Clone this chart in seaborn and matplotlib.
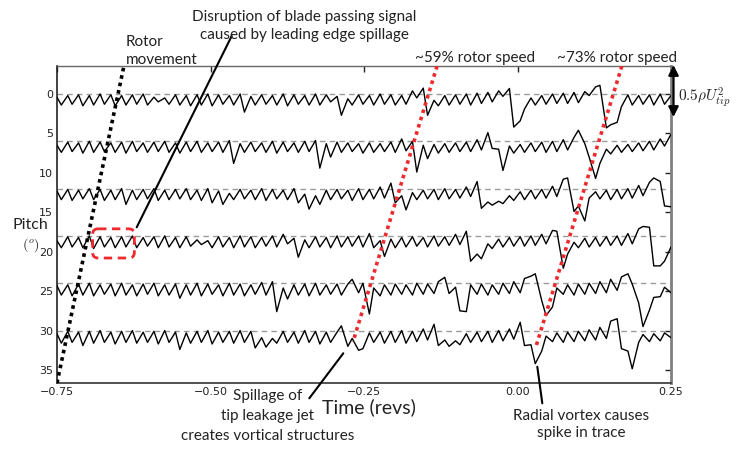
import numpy as np
import pandas as pd
import matplotlib
matplotlib.use("Agg")
import matplotlib.pyplot as plt
from matplotlib.lines import Line2D
from matplotlib.patches import FancyBboxPatch
import seaborn as sns

# Probe pitch positions (deg) of the six casing traces
trace_pitch = [0, 6, 12, 18, 24, 30]

# Pressure signals, sampled every half blade passing period from -0.75 to 0.25 revs.
# Values are offsets below each trace's reference line, in pitch-axis units.
trace_0 = [
    0.4, 1.4, 0.2, 1.3, 0.1, 1.5, 0.2, 1.4, 0.0, 1.3,
    0.1, 1.5, 0.2, 1.4, 0.1, 1.3, 0.0, 1.4, 0.4, 1.0,
    0.5, 1.3, 0.1, 1.4, 0.2, 1.5, 0.1, 1.4, 0.0, 1.5,
    0.1, 1.3, 0.2, 1.4, 0.0, 2.3, 0.3, 1.4, 0.1, 1.3,
    0.2, 1.4, 0.0, 1.5, 0.1, 1.3, 0.2, 1.4, 0.0, 1.4,
    0.1, 1.0, 0.3, 2.7, 0.6, 1.4, 0.1, 1.3, 0.2, 1.4,
    0.0, 1.3, 0.1, 1.4, 0.2, 1.3, -0.4, 0.5, -0.75, 2.7,
    0.8, 1.5, 0.2, 1.4, 0.1, 1.3, 0.0, 1.4, -0.1, 1.2,
    -0.2, 1.0, -0.4, 0.3, -0.7, 4.2, 3.4, 1.9, 0.5, 1.4,
    0.2, 1.3, 0.0, 1.2, -0.1, 1.2, -0.2, 1.1, -0.3, 0.2,
    -0.9, -1.1, 4.3, 3.9, 3.6, 1.6, 0.1, 1.4, 0.2, 1.3,
    0.1, 1.4, 0.0, 1.3, 0.2,
]
trace_6 = [
    0.5, 1.4, 0.1, 1.3, 0.2, 1.5, 0.0, 1.4, 0.1, 1.3,
    0.2, 1.4, 0.1, 1.5, 0.0, 1.3, 0.2, 1.4, 0.1, 1.3,
    0.0, 1.4, 0.2, 1.5, 0.1, 1.3, 0.0, 1.4, 0.2, 1.3,
    0.1, 1.4, -0.1, 2.8, 0.3, 1.4, 0.1, 1.3, 0.2, 1.4,
    0.0, 1.5, 0.1, 1.3, 0.2, 1.4, 0.0, 1.3, -0.1, 3.4,
    0.3, 2.0, 0.1, 1.4, 0.2, 1.3, 0.3, 1.5, 0.2, 1.4,
    0.3, 1.3, 0.1, 1.4, -0.3, 1.2, 0.0, 3.9, 0.5, 2.2,
    0.4, 1.5, 0.3, 1.4, 0.2, 1.3, 0.1, 1.3, -0.2, 1.1,
    -1.1, 0.9, 1.0, 3.7, 0.6, 1.5, 0.4, 1.4, 0.2, 1.3,
    0.1, 1.4, 0.0, 1.3, -0.2, 1.1, -0.5, -1.4, 0.3, 2.0,
    4.7, 2.8, 1.0, 1.6, 0.5, 1.4, 0.4, 1.3, 0.2, 1.2,
    0.0, 1.1, -0.3, 0.6, -0.9,
]
trace_12 = [
    0.3, 1.4, 0.1, 1.5, 0.2, 1.3, 0.0, 1.4, 0.1, 1.5,
    0.2, 1.4, 0.0, 2.0, 0.2, 1.4, 0.1, 1.3, 0.0, 1.5,
    0.2, 1.4, 0.1, 1.3, 0.0, 1.4, 0.2, 1.5, 0.0, 1.8,
    0.3, 2.0, 0.6, 1.4, 0.1, 1.3, 0.2, 1.4, 0.0, 1.5,
    0.1, 1.3, 0.2, 1.4, 0.0, 1.8, 0.7, 2.6, 0.9, 2.0,
    0.2, 1.4, 0.1, 1.3, 0.2, 1.5, 0.0, 1.4, 0.1, 1.3,
    -0.2, 1.2, -0.7, 1.8, 0.9, 2.7, 0.5, 1.4, 0.2, 1.3,
    0.1, 1.4, 0.0, 1.3, 0.1, 1.2, -0.2, 1.0, -0.9, 2.5,
    1.7, 2.1, 1.6, 1.9, 0.9, 1.5, 0.4, 1.4, 0.2, 1.3,
    0.1, 1.2, -0.3, 1.0, -1.2, -1.35, 2.9, 2.2, 4.1, 1.2,
    0.4, 1.3, 0.2, 1.4, 0.1, 1.3, 0.0, 1.2, -0.4, 0.9,
    -0.8, -1.35, -0.9, 2.2, 2.3,
]
trace_18 = [
    0.6, 1.5, 0.1, 1.4, 0.2, 1.5, 0.0, 1.6, 0.1, 1.4,
    0.2, 1.5, 0.1, 1.4, 0.0, 1.5, 0.2, 1.3, 0.1, 1.5,
    0.0, 1.4, 0.2, 1.5, 0.1, 1.3, 0.5, 1.1, 0.6, 1.5,
    0.1, 1.4, 0.2, 1.5, 0.0, 1.4, 0.1, 1.5, 0.2, 1.3,
    0.0, 1.4, -0.2, 1.0, 0.3, 2.7, 0.5, 1.5, 0.1, 1.4,
    0.2, 1.5, 0.0, 1.4, 0.1, 1.3, 0.0, 1.4, -0.3, 1.5,
    0.6, 2.6, 0.4, 1.5, 0.2, 1.4, 0.1, 1.3, 0.2, 1.4,
    0.0, 1.3, 0.1, 1.2, -0.2, 1.1, -0.6, 3.2, 2.3, 2.9,
    1.0, 1.6, 0.4, 1.4, 0.2, 1.3, 0.1, 1.3, 0.0, 1.2,
    -0.2, 1.0, -0.7, -0.6, 4.1, 2.3, 0.8, 1.5, 0.3, 1.4,
    0.2, 1.3, 0.1, 1.2, 0.0, 1.2, -0.3, 1.0, -0.9, -1.2,
    -1.1, 3.8, 3.8, 3.2, 1.4,
]
trace_24 = [
    0.3, 1.5, 0.2, 1.6, 0.1, 1.5, 0.0, 1.6, 0.2, 1.4,
    0.1, 1.6, 0.0, 1.5, 0.2, 1.6, 0.1, 1.4, 0.0, 1.6,
    0.2, 1.5, 0.1, 1.9, 0.2, 1.5, 0.0, 1.6, 0.1, 1.4,
    0.2, 1.6, 0.0, 1.5, 0.1, 1.6, 0.2, 1.4, -0.1, 1.5,
    -0.2, 3.6, 0.6, 2.0, 0.2, 1.5, 0.1, 1.6, 0.0, 1.5,
    0.2, 1.4, 0.1, 1.5, 0.1, -0.5, 1.2, 0.0, 3.9, 0.6,
    1.6, 0.2, 1.5, 0.1, 1.4, 0.2, 1.5, 0.0, 1.4, 0.1,
    1.3, -0.2, -0.75, 1.3, 0.5, 3.5, 3.6, 0.2, 1.4, 0.1,
    1.5, 0.2, 1.4, 0.0, 1.3, -0.2, 1.2, -0.6, -0.9, -1.2,
    2.2, 4.1, 3.0, 0.6, 1.4, 0.2, 1.5, 0.1, 1.4, 0.0,
    1.3, -0.2, 1.2, -0.5, 0.9, -0.8, -1.2, 0.1, 2.5, 5.5,
    3.4, 1.8, 1.7, 0.5, 1.2,
]
trace_30 = [
    0.4, 1.6, 0.1, 1.5, 0.2, 1.9, 0.1, 1.6, 0.0, 1.5,
    0.2, 1.7, 0.1, 1.5, 0.0, 1.6, 0.2, 1.5, 0.1, 1.7,
    0.0, 1.5, 0.2, 2.4, 0.3, 1.6, 0.1, 1.5, 0.0, 1.7,
    0.2, 1.5, 0.1, 1.6, 0.0, 1.5, 0.1, 2.2, 0.9, 2.1,
    1.0, 1.6, 0.1, 1.5, 0.2, 1.6, 0.0, 1.5, 0.1, 1.7,
    0.2, 1.5, 0.2, -0.6, 2.0, 1.0, 2.5, 2.3, 0.3, 1.5,
    0.2, 1.6, 0.1, 1.5, 0.0, 1.6, 0.1, 1.4, -0.2, 1.2,
    -0.8, 1.9, 1.2, 2.0, 1.3, 1.8, 0.4, 1.5, 0.2, 1.4,
    0.1, 1.5, 0.0, 1.3, -0.2, 1.1, -1.05, 1.9, 1.8, 4.2,
    2.6, 0.7, 1.4, 0.3, 1.5, 0.2, 1.4, 0.1, 1.3, -0.1,
    1.2, -0.4, 1.0, -1.2, -1.5, 2.3, 2.6, 4.85, 1.5, 0.5,
    1.4, 0.4, 1.3, 0.3, 0.9,
]
traces = [trace_0, trace_6, trace_12, trace_18, trace_24, trace_30]

time_start, time_end = -0.75, 0.25
x_ticks = [-0.75, -0.50, -0.25, 0.00, 0.25]
x_tick_labels = ["\u22120.75", "\u22120.50", "\u22120.25", "0.00", "0.25"]
y_ticks = [0, 5, 10, 15, 20, 25, 30, 35]

# Propagation guide lines: rotor movement and the two disturbance speeds
rotor_time, rotor_pitch = [-0.75, -0.641], [36.65, -3.55]
speed59_time, speed59_pitch = [-0.131, -0.268], [-3.55, 31.45]
speed73_time, speed73_pitch = [0.170, 0.029], [-3.55, 32.3]

# Highlighted region of leading edge spillage (time, pitch extents)
spill_box_time = [-0.692, -0.624]
spill_box_pitch = [17.1, 20.8]

# ---------------------------------------------------------------------------
sns.set_theme(style="white")
plt.rcParams["font.family"] = ["DejaVu Sans"]
plt.rcParams["mathtext.fontset"] = "cm"
label_font = "Lato"
ink = "#222222"
red = "#ee2a2e"

W, H = 746, 449
fig = plt.figure(figsize=(W / 100, H / 100), dpi=100)
ax = fig.add_axes([57 / W, 1 - 383 / H, 614 / W, 317 / H])


def fx(x):
    return x / W


def fy(y):
    return 1 - y / H


# Long-form table of all traces; troughs sit slightly earlier in each
# blade period, giving the slow-rise / sharp-drop shape of the signal.
frames = []
for base, vals in zip(trace_pitch, traces):
    n = len(vals)
    k = np.arange(n)
    t = time_start + (k - 0.2 * (k % 2)) * (time_end - time_start) / (n - 1)
    frames.append(pd.DataFrame({"time": t,
                                "pitch": base + np.asarray(vals),
                                "trace": base}))
df = pd.concat(frames, ignore_index=True)

for base in trace_pitch:
    ax.axhline(base, color="#9a9a9a", lw=1.0, ls=(0, (4, 3)), zorder=1)

sns.lineplot(data=df, x="time", y="pitch", units="trace", estimator=None,
             sort=False, color="black", lw=1.0, legend=False, ax=ax, zorder=3,
             solid_joinstyle="round")

ax.plot(rotor_time, rotor_pitch, color="black", lw=2.6, ls=(0, (1, 1.1)),
        zorder=4)
ax.plot(speed59_time, speed59_pitch, color=red, lw=2.6, ls=(0, (1, 1.1)),
        zorder=4)
ax.plot(speed73_time, speed73_pitch, color=red, lw=2.6, ls=(0, (1, 1.1)),
        zorder=4)

box = FancyBboxPatch((spill_box_time[0], spill_box_pitch[0]),
                     spill_box_time[1] - spill_box_time[0],
                     spill_box_pitch[1] - spill_box_pitch[0],
                     boxstyle="round,pad=0,rounding_size=0.009",
                     mutation_aspect=78, ec=red, fc="none", lw=2.0,
                     ls=(0, (3, 2)), zorder=5)
ax.add_patch(box)

ax.set_xlim(time_start, time_end)
ax.set_ylim(36.65, -3.55)
ax.set_xticks(x_ticks)
ax.set_xticklabels(x_tick_labels)
ax.set_yticks(y_ticks)
ax.set_xlabel("")
ax.set_ylabel("")
ax.tick_params(direction="in", length=4, width=1, top=True, right=True,
               labelsize=8, pad=3, colors=ink)
for side, spine in ax.spines.items():
    spine.set_visible(True)
    spine.set_color({"left": "#222222", "bottom": "#333333",
                     "top": "#666666", "right": "#808080"}[side])
    spine.set_linewidth({"left": 1.2, "bottom": 1.2,
                         "top": 1.0, "right": 2.0}[side])

# Leader lines from the notes to the features they describe
for (x1, y1), (x2, y2) in [((231.7, 36), (136.7, 227.3)),
                           ((309.3, 398.3), (343.3, 353.3)),
                           ((537.3, 366.7), (542.3, 403.3))]:
    fig.add_artist(Line2D([fx(x1), fx(x2)], [fy(y1), fy(y2)], color="black",
                          lw=1.5, transform=fig.transFigure))

# Pressure scale bar
ax.annotate("", xy=(673.5, H - 65), xytext=(673.5, H - 117),
            xycoords="figure pixels", textcoords="figure pixels",
            arrowprops=dict(arrowstyle="<|-|>", color="black", lw=1.6,
                            mutation_scale=15, shrinkA=0, shrinkB=0),
            annotation_clip=False)
fig.text(fx(678), fy(97), r"$0.5\rho U_{tip}^2$", ha="left", va="center",
         fontsize=11, color=ink)

txt = dict(family=label_font, color=ink, fontsize=11, linespacing=1.35)
fig.text(fx(126), fy(51), "Rotor\nmovement", ha="left", va="center", **txt)
fig.text(fx(304), fy(26), "Disruption of blade passing signal\ncaused by leading edge spillage",
         ha="center", va="center", multialignment="center", **txt)
fig.text(fx(475.5), fy(58), "~59% rotor speed", ha="center", va="center", **txt)
fig.text(fx(617.5), fy(58), "~73% rotor speed", ha="center", va="center", **txt)
fig.text(fx(30.5), fy(225), "Pitch", ha="center", va="center",
         family=label_font, color=ink, fontsize=11.5)
fig.text(fx(31), fy(245), r"$(^o)$", ha="center", va="center",
         fontsize=10, color=ink)
fig.text(fx(369), fy(407), "Time (revs)", ha="center", va="center",
         family=label_font, color=ink, fontsize=14)

# The spillage note is set line by line so each line keeps its own extent
for y, line in [(396, "Spillage of"), (416, "tip leakage jet"),
                (436, "creates vortical structures")]:
    fig.text(fx(267.5), fy(y), line, ha="center", va="center", **txt)

fig.text(fx(581), fy(424.5), "Radial vortex causes\nspike in trace",
         ha="center", va="center", multialignment="center", **txt)

fig.savefig("out.png", dpi=100)
